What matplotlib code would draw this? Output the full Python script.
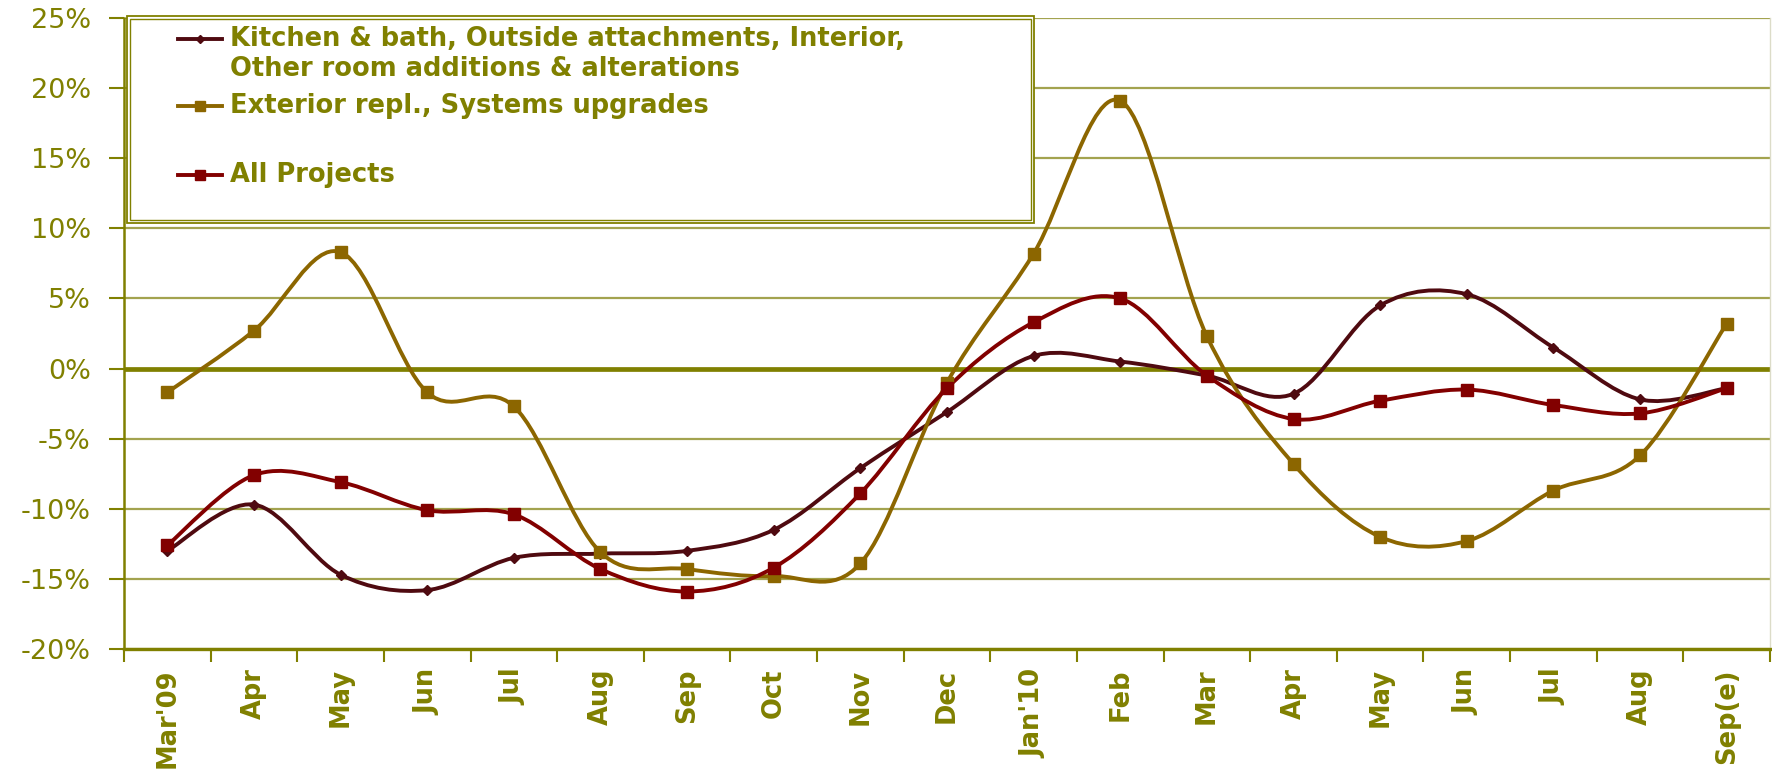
import numpy as np
import matplotlib
matplotlib.use('Agg')
import matplotlib.pyplot as plt
from matplotlib.path import Path
from matplotlib.patches import PathPatch, Rectangle

# Month categories (Mar'09 .. Sep'10 estimate)
months = ["Mar'09", "Apr", "May", "Jun", "Jul", "Aug", "Sep", "Oct", "Nov", "Dec",
          "Jan'10", "Feb", "Mar", "Apr", "May", "Jun", "Jul", "Aug", "Sep(e)"]

# Year-over-year change, %
kitchen = [-13.0, -9.7, -14.7, -15.8, -13.5, -13.2, -13.0, -11.5, -7.1, -3.1,
           0.9, 0.5, -0.5, -1.8, 4.5, 5.3, 1.5, -2.2, -1.4]
exterior = [-1.7, 2.7, 8.3, -1.7, -2.7, -13.1, -14.3, -14.8, -13.9, -1.0,
            8.2, 19.1, 2.3, -6.8, -12.0, -12.3, -8.7, -6.2, 3.2]
all_projects = [-12.6, -7.6, -8.1, -10.1, -10.4, -14.3, -15.9, -14.2, -8.9, -1.4,
                3.3, 5.0, -0.5, -3.6, -2.3, -1.5, -2.6, -3.2, -1.4]

series_labels = ["Kitchen & bath, Outside attachments, Interior,",
                 "Other room additions & alterations",
                 "Exterior repl., Systems upgrades",
                 "All Projects"]

yticks = [-20, -15, -10, -5, 0, 5, 10, 15, 20, 25]
ytick_labels = ['-20%', '-15%', '-10%', '-5%', '0%', '5%', '10%', '15%', '20%', '25%']

OLIVE = '#808000'
GRID = '#a3a34f'
C_KITCHEN = '#4f0a10'
C_EXTERIOR = '#8c6600'
C_ALL = '#820000'


def smooth_path(xs, ys):
    # Bezier smoothing similar to spreadsheet "smoothed line"
    n = len(xs)
    verts = [(xs[0], ys[0])]
    codes = [Path.MOVETO]
    for i in range(n - 1):
        a = i - 1 if i > 0 else i
        b = i + 2 if i + 2 < n else i + 1
        c1 = (xs[i] + (xs[i + 1] - xs[a]) / 6.0, ys[i] + (ys[i + 1] - ys[a]) / 6.0)
        c2 = (xs[i + 1] - (xs[b] - xs[i]) / 6.0, ys[i + 1] - (ys[b] - ys[i]) / 6.0)
        verts += [c1, c2, (xs[i + 1], ys[i + 1])]
        codes += [Path.CURVE4] * 3
    return Path(verts, codes)


fig = plt.figure(figsize=(17.72, 7.79), dpi=100)
ax = fig.add_axes([124 / 1772, 1 - 649 / 779, 1646 / 1772, 631 / 779])

x = np.arange(len(months))

# grid and zero line
for yv in yticks:
    if yv == 0:
        continue
    ax.axhline(yv, color=GRID, lw=1.6, zorder=1)
ax.axhline(0, color=OLIVE, lw=3.4, zorder=2)

series = [(kitchen, C_KITCHEN, 'D', 5.5),
          (exterior, C_EXTERIOR, 's', 8),
          (all_projects, C_ALL, 's', 8)]
for vals, col, mk, ms in series:
    ax.add_patch(PathPatch(smooth_path(x, vals), facecolor='none', edgecolor=col,
                           lw=2.8, capstyle='round', joinstyle='round', zorder=3))
    ax.plot(x, vals, linestyle='none', marker=mk, ms=ms, color=col, zorder=4)

ax.set_xlim(-0.5, len(months) - 0.5)
ax.set_ylim(-20, 25)

ax.set_yticks(yticks)
ax.set_yticklabels(ytick_labels, fontsize=19.5, color=OLIVE, family='DejaVu Sans')
ax.tick_params(axis='y', direction='out', length=11, width=1.5, color=OLIVE, pad=13)

ax.set_xticks(x)
ax.set_xticklabels(months, rotation=90, fontsize=18.5, fontweight='bold', color=OLIVE)
ax.set_xticks(np.arange(len(months) + 1) - 0.5, minor=True)
ax.tick_params(axis='x', which='major', length=0, pad=14)
ax.tick_params(axis='x', which='minor', direction='out', length=9, width=1.5, color=OLIVE)

ax.spines['top'].set_visible(False)
ax.spines['right'].set_color('#dcdcc8')
ax.spines['right'].set_linewidth(1.0)
ax.spines['left'].set_color(OLIVE)
ax.spines['left'].set_linewidth(1.8)
ax.spines['bottom'].set_color(OLIVE)
ax.spines['bottom'].set_linewidth(2.4)

# legend box (double frame)
ax.add_patch(Rectangle((0.0018, 0.675), 0.5510, 0.328, transform=ax.transAxes,
                       facecolor='white', edgecolor=OLIVE, lw=1.3, zorder=5, clip_on=False))
ax.add_patch(Rectangle((0.0036, 0.680), 0.5474, 0.318, transform=ax.transAxes,
                       facecolor='none', edgecolor=OLIVE, lw=1.0, zorder=5, clip_on=False))

rows = [0.966, 0.919, 0.8605, 0.7512]
handles = [(C_KITCHEN, 'D', 4.5, rows[0]), (C_EXTERIOR, 's', 6.5, rows[2]), (C_ALL, 's', 6.5, rows[3])]
for col, mk, ms, ry in handles:
    ax.plot([0.0328, 0.0595], [ry, ry], color=col, lw=2.8, transform=ax.transAxes,
            zorder=6, clip_on=False)
    ax.plot([0.0462], [ry], marker=mk, ms=ms, color=col, transform=ax.transAxes,
            zorder=6, clip_on=False)
for lab, ry in zip(series_labels, rows):
    ax.text(0.0644, ry, lab, transform=ax.transAxes, ha='left', va='center',
            fontsize=18.5, fontweight='bold', color=OLIVE, zorder=7)

fig.savefig('out.png', dpi=100)
